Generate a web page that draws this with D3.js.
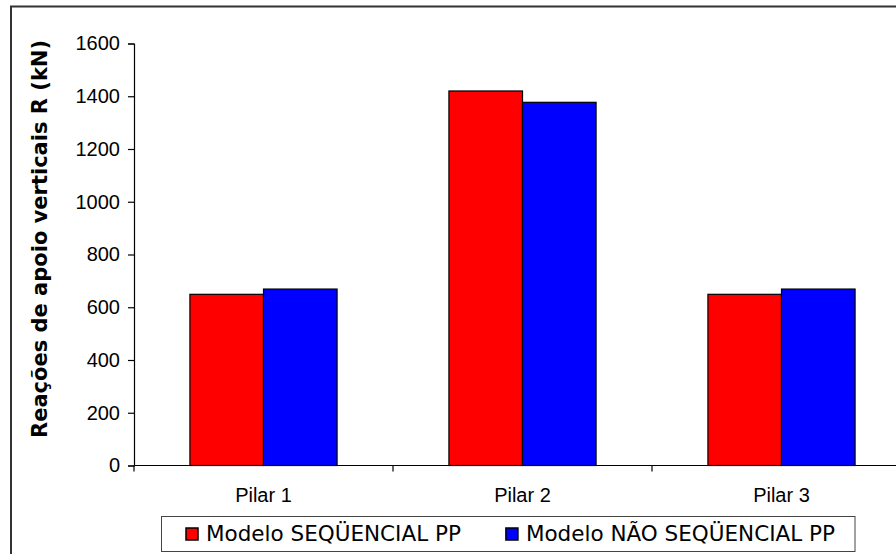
<!DOCTYPE html>
<html>
<head>
<meta charset="utf-8">
<script src="https://cdn.jsdelivr.net/npm/d3@7"></script>
<style>
  html, body { margin: 0; padding: 0; background: #fff; }
  svg { display: block; }
</style>
</head>
<body>
<svg id="chart" width="896" height="554"></svg>
<script>
// Reações de apoio verticais por pilar, dois modelos
const categories = ['Pilar 1', 'Pilar 2', 'Pilar 3'];
const seriesNames = ['Modelo SEQÜENCIAL PP', 'Modelo NÃO SEQÜENCIAL PP'];
const seqValues = [649, 1420, 649];
const naoSeqValues = [669, 1377, 669];
const yTicks = [0, 200, 400, 600, 800, 1000, 1200, 1400, 1600];
const yTitle = 'Reações de apoio verticais R (kN)';

const colors = ['#ff0000', '#0000ff'];
const svg = d3.select('#chart');

// outer chart border (cropped on the right and bottom in the original)
svg.append('rect')
  .attr('x', 11).attr('y', 6.5).attr('width', 960).attr('height', 600)
  .attr('fill', 'none').attr('stroke', '#333').attr('stroke-width', 2);

const plot = { left: 134, right: 911, top: 43.5, bottom: 465.5 };

const x0 = d3.scaleBand().domain(categories).range([plot.left, plot.right]).padding(0);
const x1 = d3.scaleBand().domain(seriesNames).range([0, x0.bandwidth()])
  .paddingInner(0).paddingOuter(0.76);
const y = d3.scaleLinear().domain([0, 1600]).range([plot.bottom, plot.top]);

const rows = categories.map((c, i) => ({ cat: c, vals: [seqValues[i], naoSeqValues[i]] }));

// bars
const groups = svg.append('g').selectAll('g').data(rows).join('g')
  .attr('transform', d => `translate(${x0(d.cat)},0)`);
groups.selectAll('rect').data(d => d.vals.map((v, j) => ({ name: seriesNames[j], v, j })))
  .join('rect')
  .attr('x', d => x1(d.name))
  .attr('y', d => y(d.v))
  .attr('width', x1.bandwidth())
  .attr('height', d => y(0) - y(d.v))
  .attr('fill', d => colors[d.j])
  .attr('stroke', '#000').attr('stroke-width', 1.2);

// y axis
const yAxis = svg.append('g').attr('transform', `translate(${plot.left},0)`)
  .call(d3.axisLeft(y).tickValues(yTicks).tickSize(6).tickPadding(8).tickFormat(d3.format('d')));
yAxis.select('.domain').attr('stroke', '#000').attr('stroke-width', 1.2);
yAxis.selectAll('.tick line').attr('stroke', '#000').attr('stroke-width', 1.2);
yAxis.selectAll('.tick text')
  .attr('font-family', 'Liberation Sans, Arial, sans-serif')
  .attr('font-size', 20).attr('fill', '#000');

// x axis: line, boundary ticks, category labels
svg.append('line')
  .attr('x1', plot.left).attr('x2', plot.right)
  .attr('y1', y(0)).attr('y2', y(0))
  .attr('stroke', '#000').attr('stroke-width', 1.2);
const bounds = categories.map(c => x0(c)).concat([x0(categories[categories.length - 1]) + x0.bandwidth()]);
svg.append('g').selectAll('line').data(bounds).join('line')
  .attr('x1', d => d).attr('x2', d => d)
  .attr('y1', y(0)).attr('y2', y(0) + 6)
  .attr('stroke', '#000').attr('stroke-width', 1.2);
svg.append('g').selectAll('text').data(categories).join('text')
  .attr('x', d => x0(d) + x0.bandwidth() / 2)
  .attr('y', 501.5)
  .attr('text-anchor', 'middle')
  .attr('font-family', 'Liberation Sans, Arial, sans-serif')
  .attr('font-size', 20)
  .text(d => d);

// y title
svg.append('text')
  .attr('transform', 'translate(47,239) rotate(-90)')
  .attr('text-anchor', 'middle')
  .attr('font-family', 'DejaVu Sans, Verdana, sans-serif')
  .attr('font-weight', 'bold')
  .attr('font-size', 21)
  .text(yTitle);

// legend
const legend = svg.append('g');
legend.append('rect')
  .attr('x', 161.5).attr('y', 516.5).attr('width', 693.5).attr('height', 35)
  .attr('fill', '#fff').attr('stroke', '#444').attr('stroke-width', 1);
let lx = 186;
seriesNames.forEach((name, j) => {
  legend.append('rect')
    .attr('x', lx).attr('y', 528).attr('width', 12).attr('height', 12)
    .attr('fill', colors[j]).attr('stroke', '#000').attr('stroke-width', 1.5);
  const t = legend.append('text')
    .attr('x', lx + 20).attr('y', 541)
    .attr('font-family', 'DejaVu Sans, Verdana, sans-serif')
    .attr('font-size', 21.5)
    .text(name);
  lx = lx + 20 + t.node().getComputedTextLength() + 45;
});
</script>
</body>
</html>
